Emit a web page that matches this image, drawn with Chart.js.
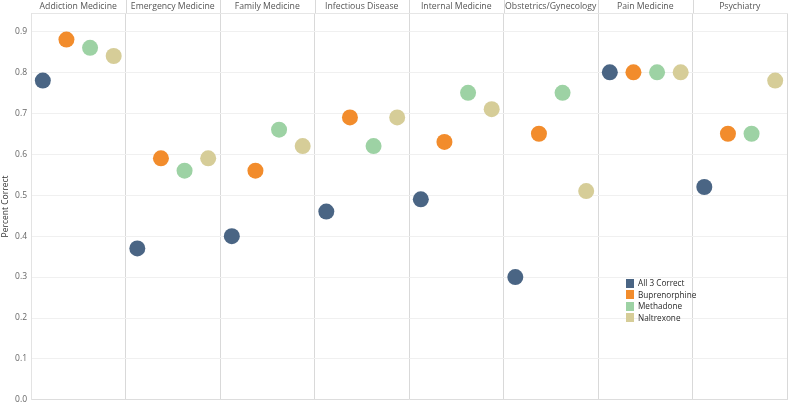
<!DOCTYPE html>
<html>
<head>
<meta charset="utf-8">
<script src="https://cdn.jsdelivr.net/npm/chart.js@4"></script>
<style>
  html, body { margin: 0; padding: 0; background: #fff; }
  #wrap { position: relative; width: 790px; height: 409px; }
  #legend { position: absolute; left: 626px; top: 277px; font-family: 'Open Sans', sans-serif; font-size: 8.2px; color: #2a2a2a; }
  #legend div { height: 11.6px; line-height: 11.6px; white-space: nowrap; }
  #legend span { display: inline-block; width: 8px; height: 9px; vertical-align: -1.5px; margin-right: 4px; }
</style>
</head>
<body>
<div id="wrap">
  <canvas id="c" width="790" height="409"></canvas>
  <div id="legend"></div>
</div>
<script>
const categories = ['Addiction Medicine', 'Emergency Medicine', 'Family Medicine', 'Infectious Disease', 'Internal Medicine', 'Obstetrics/Gynecology', 'Pain Medicine', 'Psychiatry'];
const seriesNames = ['All 3 Correct', 'Buprenorphine', 'Methadone', 'Naltrexone'];
const allCorrect    = [0.78, 0.37, 0.40, 0.46, 0.49, 0.30, 0.80, 0.52];
const buprenorphine = [0.88, 0.59, 0.56, 0.69, 0.63, 0.65, 0.80, 0.65];
const methadone     = [0.86, 0.56, 0.66, 0.62, 0.75, 0.75, 0.80, 0.65];
const naltrexone    = [0.84, 0.59, 0.62, 0.69, 0.71, 0.51, 0.80, 0.78];
const yTicks = [0.0, 0.1, 0.2, 0.3, 0.4, 0.5, 0.6, 0.7, 0.8, 0.9];

const colors = ['#4a6584', '#f28c2c', '#9dd2a4', '#d6cd98'];
const seriesValues = [allCorrect, buprenorphine, methadone, naltrexone];
const offsets = [0.125, 0.375, 0.625, 0.875];

const datasets = seriesValues.map((vals, s) => ({
  label: seriesNames[s],
  data: vals.map((v, i) => ({ x: i + offsets[s], y: v })),
  backgroundColor: colors[s],
  borderColor: colors[s],
  pointRadius: 8,
  pointHoverRadius: 8,
  borderWidth: 0,
  xAxisID: 'x',
  yAxisID: 'y'
}));

const FONT = "'Open Sans', sans-serif";

const headerLines = {
  id: 'headerLines',
  afterDraw(chart) {
    const ctx = chart.ctx;
    const xs = chart.scales.x;
    const top = chart.chartArea.top;
    ctx.save();
    ctx.strokeStyle = '#d9d9d9';
    ctx.lineWidth = 1;
    for (let i = 1; i < categories.length; i++) {
      const px = Math.round(xs.getPixelForValue(i)) + 0.5;
      ctx.beginPath();
      ctx.moveTo(px, 0);
      ctx.lineTo(px, top);
      ctx.stroke();
    }
    ctx.restore();
  }
};

new Chart(document.getElementById('c'), {
  type: 'scatter',
  data: { datasets },
  plugins: [headerLines],
  options: {
    responsive: false,
    animation: false,
    layout: { autoPadding: false, padding: { top: 0, right: 3, bottom: 3, left: 0 } },
    plugins: { legend: { display: false }, tooltip: { enabled: false } },
    scales: {
      x: {
        type: 'linear', position: 'bottom', min: 0, max: categories.length,
        afterBuildTicks(scale) { scale.ticks = categories.map((c, i) => ({ value: i })).concat([{ value: categories.length }]); },
        ticks: { display: false },
        grid: { color: '#d9d9d9', drawTicks: false },
        border: { display: true, color: '#dddddd' },
        afterFit(scale) { scale.height = 0; }
      },
      x2: {
        type: 'linear', position: 'top', min: 0, max: categories.length,
        afterBuildTicks(scale) { scale.ticks = categories.map((c, i) => ({ value: i + 0.5 })); },
        ticks: {
          callback: (v) => categories[Math.round(v - 0.5)] || '',
          font: { family: FONT, size: 8.7 }, color: '#555', padding: -7, maxRotation: 0, autoSkip: false
        },
        grid: { display: false },
        border: { display: true, color: '#e6e6e6' },
        afterFit(scale) { scale.height = 13; }
      },
      y: {
        type: 'linear', min: 0, max: 0.945,
        afterBuildTicks(scale) { scale.ticks = yTicks.map(v => ({ value: v })); },
        ticks: { callback: (v) => v.toFixed(1), font: { family: FONT, size: 8.5 }, color: '#666', padding: 4 },
        grid: { color: '#f0f0f0', drawTicks: false },
        border: { display: true, color: '#e3e3e3' },
        title: { display: true, text: 'Percent Correct', font: { family: FONT, size: 8.5 }, color: '#333', padding: { top: 0, bottom: 0 } },
        afterFit(scale) { scale.width = 31; }
      }
    }
  }
});

const lg = document.getElementById('legend');
seriesNames.forEach((n, i) => {
  const d = document.createElement('div');
  d.innerHTML = '<span style="background:' + colors[i] + '"></span>' + n;
  lg.appendChild(d);
});
</script>
</body>
</html>
